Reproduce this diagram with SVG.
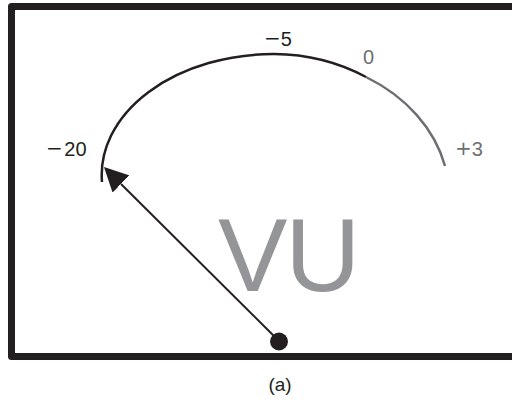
<svg xmlns="http://www.w3.org/2000/svg" width="512" height="399" viewBox="0 0 512 399">
  <style>
    .lbl { font-family: "Liberation Sans", Arial, sans-serif; font-size: 20px; }
    .minus { font-family: "DejaVu Sans", sans-serif; }
    .dark { fill: #231f20; }
    .gray { fill: #6d6e71; }
  </style>
  <defs>
    <marker id="ah" markerUnits="userSpaceOnUse" markerWidth="24" markerHeight="24" viewBox="0 0 24 24" refX="0" refY="12" orient="auto">
      <path d="M0,0 L24,12 L0,24 Z" fill="#231f20"/>
    </marker>
  </defs>
  <rect width="512" height="399" fill="#ffffff"/>
  <g id="frame">
    <rect x="11.5" y="6.5" width="520" height="350" fill="none" stroke="#231f20" stroke-width="7" stroke-linejoin="round"/>
  </g>
  <g id="scale">
    <path d="M102,182 A172,121 0 0 1 274,54 A171,140 0 0 1 366,77" fill="none" stroke="#231f20" stroke-width="2.5"/>
    <path d="M366,77 A171,140 0 0 1 445,166" fill="none" stroke="#6d6e71" stroke-width="2.5"/>
  </g>
  <g id="labels">
    <text class="lbl dark" x="264" y="46"><tspan class="minus" dy="-1">−</tspan><tspan dy="1">5</tspan></text>
    <text class="lbl gray" x="363" y="64">0</text>
    <text class="lbl dark" x="46" y="156"><tspan class="minus" dy="-1">−</tspan><tspan dx="1.5" dy="1">20</tspan></text>
    <text class="lbl gray" x="455" y="156"><tspan class="minus" dy="-1">+</tspan><tspan dy="1">3</tspan></text>
  </g>
  <g id="vu">
    <text x="218" y="291" font-family="Liberation Sans, Arial, sans-serif" font-size="104" fill="#939598" letter-spacing="-2">VU</text>
  </g>
  <g id="connectors">
    <line x1="279" y1="341" x2="121" y2="184" stroke="#231f20" stroke-width="2" marker-end="url(#ah)"/>
  </g>
  <g id="pivot">
    <circle cx="279" cy="341.5" r="9" fill="#231f20"/>
  </g>
  <g id="caption">
    <text x="280" y="391" text-anchor="middle" font-family="Liberation Sans, Arial, sans-serif" font-size="19" fill="#231f20">(a)</text>
  </g>
</svg>
